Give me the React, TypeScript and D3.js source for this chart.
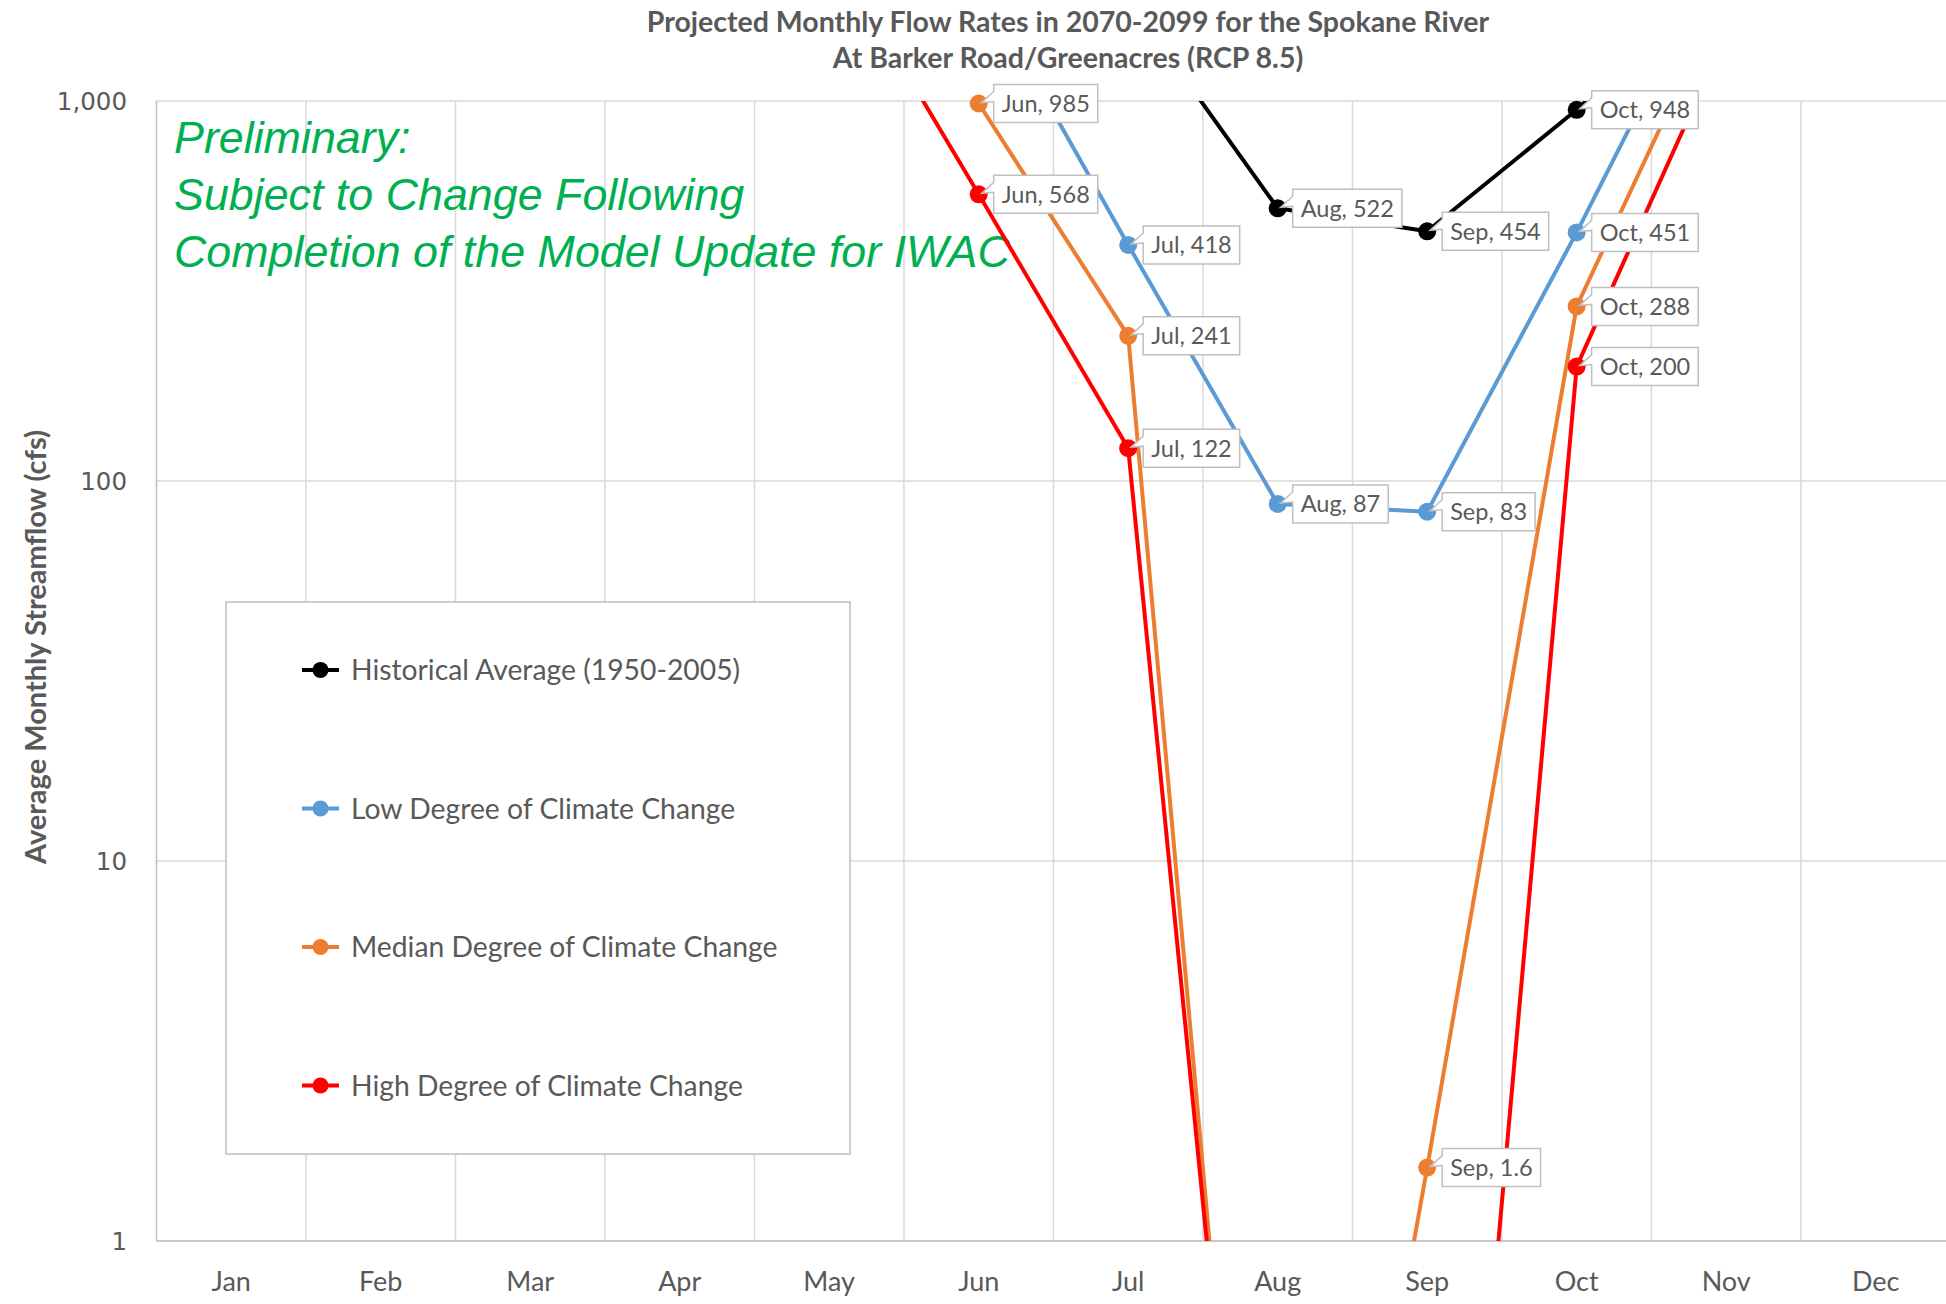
import React from "react";
import * as d3 from "d3";

const months = ["Jan", "Feb", "Mar", "Apr", "May", "Jun", "Jul", "Aug", "Sep", "Oct", "Nov", "Dec"];
const historical = [6500, 7500, 10500, 16000, 19000, 9000, 1850, 522, 454, 948, 2200, 4800];
const lowCC = [5000, 5500, 8000, 13000, 15000, 2080, 418, 87, 83, 451, 2700, 4000];
const medianCC = [4800, 5200, 7500, 12000, 9000, 985, 241, 0.01, 1.56, 288, 2000, 3800];
const highCC = [5200, 5800, 8500, 12500, 2600, 568, 122, 0.013, 0.008, 200, 1500, 3600];
const yTicks = [1, 10, 100, 1000];

const seriesNames = [
  "Historical Average (1950-2005)",
  "Low Degree of Climate Change",
  "Median Degree of Climate Change",
  "High Degree of Climate Change",
];
const seriesColors = ["#000000", "#5B9BD5", "#ED7D31", "#FF0000"];
const seriesValues = [historical, lowCC, medianCC, highCC];

const titleLines = [
  "Projected Monthly Flow Rates in 2070-2099 for the Spokane River",
  "At Barker Road/Greenacres (RCP 8.5)",
];
const noteLines = [
  "Preliminary:",
  "Subject to Change Following",
  "Completion of the Model Update for IWAC",
];
const yLabel = "Average Monthly Streamflow (cfs)";

const W = 1946;
const H = 1304;
const plot = { left: 156.5, right: 1950.4, top: 101, bottom: 1241 };
const LABEL_FONT = "Lato, sans-serif";
const labelSize = 23.5;

let ctx: CanvasRenderingContext2D | null = null;
function measure(text: string, font: string): number {
  if (typeof document === "undefined") return text.length * 12;
  if (!ctx) ctx = document.createElement("canvas").getContext("2d");
  if (!ctx) return text.length * 12;
  ctx.font = font;
  return ctx.measureText(text).width;
}

const fmtValue = (v: number) => (v < 10 ? d3.format(".1f")(v) : d3.format(",.0f")(v));

export default function App() {
  const x = d3.scaleBand<string>().domain(months).range([plot.left, plot.right]);
  const bw = x.bandwidth();
  const cx = (m: string) => (x(m) as number) + bw / 2;
  const y = d3.scaleLog().domain([1, 1000]).range([plot.bottom, plot.top]);

  const line = d3
    .line<number>()
    .x((_, i) => cx(months[i]))
    .y((d) => y(d));

  const gray = "#595959";
  const grid = "#D9D9D9";

  const inRange = (v: number) => v >= 0.999 && v <= 1000.5;

  const labels: { mx: number; my: number; text: string; color: string }[] = [];
  seriesValues.forEach((vals, si) => {
    vals.forEach((v, i) => {
      if (inRange(v)) {
        labels.push({ mx: cx(months[i]), my: y(v), text: `${months[i]}, ${fmtValue(v)}`, color: seriesColors[si] });
      }
    });
  });

  const legendX = 226;
  const legendY = 602;
  const legendW = 624;
  const legendH = 552;
  const legendRows = [670, 808.5, 947, 1085.5];

  return (
    <svg
      width={W}
      height={H}
      style={{ position: "absolute", left: 0, top: 0, display: "block", background: "#fff" }}
    >
      <defs>
        <clipPath id="plotClip">
          <rect x={plot.left} y={plot.top} width={plot.right - plot.left} height={plot.bottom - plot.top} />
        </clipPath>
      </defs>
      <rect x={0} y={0} width={W} height={H} fill="#fff" />

      {/* title */}
      {titleLines.map((t, i) => (
        <text
          key={t}
          x={1068}
          y={32 + i * 36}
          textAnchor="middle"
          fontFamily="Lato, sans-serif"
          fontWeight="bold"
          fontSize={28.5}
          fill={gray}
        >
          {t}
        </text>
      ))}

      {/* horizontal gridlines */}
      {yTicks.map((t) => (
        <line key={"h" + t} x1={plot.left} x2={plot.right} y1={y(t)} y2={y(t)} stroke={grid} strokeWidth={1.5} />
      ))}
      {/* vertical gridlines */}
      {months.map((m, i) =>
        i === 0 ? null : (
          <line key={"v" + m} x1={x(m)} x2={x(m)} y1={plot.top} y2={plot.bottom} stroke={grid} strokeWidth={1.5} />
        )
      )}
      {/* axes */}
      <line x1={plot.left} x2={plot.left} y1={plot.top} y2={plot.bottom} stroke="#BFBFBF" strokeWidth={1.5} />
      <line x1={plot.left} x2={plot.right} y1={plot.bottom} y2={plot.bottom} stroke="#BFBFBF" strokeWidth={1.5} />

      {/* y tick labels */}
      {yTicks.map((t) => (
        <text
          key={"yt" + t}
          x={127}
          y={y(t)}
          dy="0.36em"
          textAnchor="end"
          fontFamily="'DejaVu Sans', sans-serif"
          fontSize={24.5}
          fill={gray}
        >
          {d3.format(",")(t)}
        </text>
      ))}
      {/* x tick labels */}
      {months.map((m) => (
        <text
          key={"xt" + m}
          x={cx(m)}
          y={1281}
          dy="0.36em"
          textAnchor="middle"
          fontFamily={LABEL_FONT}
          fontSize={27}
          fill={gray}
        >
          {m}
        </text>
      ))}

      {/* y axis title */}
      <text
        transform={`translate(36,647) rotate(-90)`}
        textAnchor="middle"
        dy="0.36em"
        fontFamily="Lato, sans-serif"
        fontWeight="bold"
        fontSize={29}
        fill={gray}
      >
        {yLabel}
      </text>

      {/* preliminary note */}
      {noteLines.map((t, i) => (
        <text
          key={t}
          x={174}
          y={153 + i * 57}
          fontFamily="'Liberation Sans', Arial, sans-serif"
          fontStyle="italic"
          fontSize={44.8}
          fill="#00B050"
        >
          {t}
        </text>
      ))}

      {/* legend */}
      <rect x={legendX} y={legendY} width={legendW} height={legendH} fill="#fff" stroke="#BFBFBF" strokeWidth={1.5} />
      {seriesNames.map((n, i) => (
        <g key={n}>
          <line x1={302} x2={339} y1={legendRows[i]} y2={legendRows[i]} stroke={seriesColors[i]} strokeWidth={4} />
          <circle cx={320.5} cy={legendRows[i]} r={8} fill={seriesColors[i]} />
          <text x={351} y={legendRows[i]} dy="0.36em" fontFamily={LABEL_FONT} fontSize={28.3} fill={gray}>
            {n}
          </text>
        </g>
      ))}

      {/* series lines */}
      <g clipPath="url(#plotClip)">
        {seriesValues.map((vals, si) => (
          <path
            key={"l" + si}
            d={line(vals) || ""}
            fill="none"
            stroke={seriesColors[si]}
            strokeWidth={4}
            strokeLinejoin="round"
          />
        ))}
      </g>
      {/* markers */}
      {seriesValues.map((vals, si) =>
        vals.map((v, i) =>
          inRange(v) ? <circle key={`m${si}-${i}`} cx={cx(months[i])} cy={y(v)} r={9} fill={seriesColors[si]} /> : null
        )
      )}

      {/* data labels */}
      {labels.map((l, k) => {
        const tw = measure(l.text, `${labelSize}px Lato`);
        const bx = l.mx + 15;
        const bh = 38;
        const by = l.my - bh / 2;
        const bwid = tw + 16;
        const p = `M${bx},${by} L${bx + bwid},${by} L${bx + bwid},${by + bh} L${bx},${by + bh} L${bx},${by + 17} L${l.mx + 3},${l.my - 1} L${bx},${by + 7} Z`;
        return (
          <g key={"lab" + k}>
            <path d={p} fill="#fff" stroke="#BFBFBF" strokeWidth={1.5} strokeLinejoin="miter" />
            <text x={bx + 8} y={l.my} dy="0.36em" fontFamily={LABEL_FONT} fontSize={labelSize} fill={gray}>
              {l.text}
            </text>
          </g>
        );
      })}
    </svg>
  );
}
